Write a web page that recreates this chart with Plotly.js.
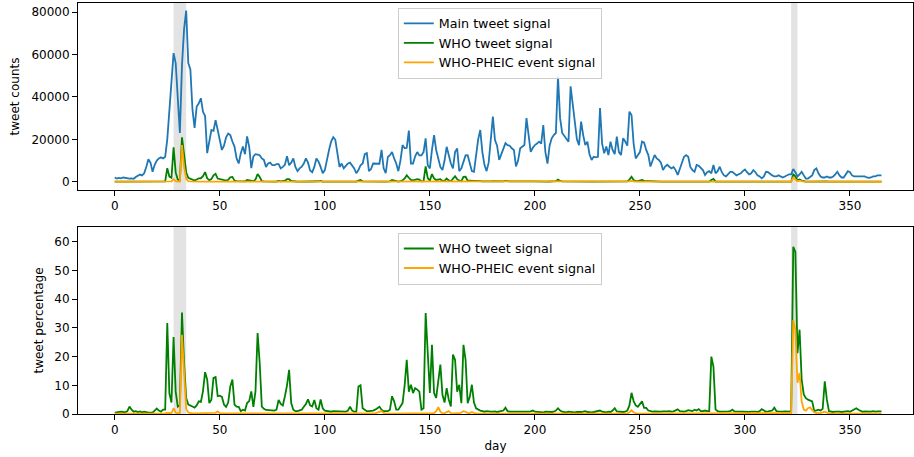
<!DOCTYPE html>
<html>
<head>
<meta charset="utf-8">
<script src="https://cdn.plot.ly/plotly-3.0.1.min.js"></script>
<style>html,body{margin:0;padding:0;background:#fff;}#chart{width:914px;height:457px;}</style>
</head>
<body>
<div id="chart"></div>
<script>
// ---- data (day index 0..365) ----
const mainCount = [
2000,1500,1800,1600,2000,1800,1700,1500,1600,1400,
2200,2800,3400,3000,4000,7000,10600,9000,4700,8000,
10000,11000,11500,11000,11800,20000,34000,48000,60700,56000,
40000,23000,55000,72000,80800,56000,53000,34000,25400,35500,
37000,39400,33000,31000,13500,20000,24400,24000,29000,24500,
19000,15000,17000,21000,22700,22000,19000,16600,11000,8600,
13500,16600,13000,21400,16500,6400,12000,13000,12800,12500,
11000,10300,7000,8600,9000,7800,7800,8300,8300,6300,
7000,8000,12000,7800,9000,11000,7000,5000,6300,7100,
8600,11000,9000,5300,4500,7000,11000,9500,7000,4000,
5500,11000,15000,19000,21000,19800,12000,7000,8600,6300,
7500,8600,9000,7800,6300,4000,5500,7800,8600,13000,
13500,5000,6000,8600,8600,8500,8500,15000,6300,4000,
11700,12500,14000,11000,8600,5000,10000,17300,15800,16000,
24100,8600,8600,12000,14000,12400,12400,14000,20500,7800,
6300,15000,22000,15000,11000,7000,5500,10000,16500,12400,
8600,6300,14000,15700,5000,6300,9500,12400,12500,8000,
5000,4700,13500,20000,24400,14000,8000,5000,9000,22000,
30700,19700,17000,10300,13000,15000,18200,17300,17000,15800,
15000,7200,10000,15800,16500,17300,30000,22000,14100,16000,
17300,18000,18900,18000,26700,14000,8600,17000,20500,22000,
23000,49600,30000,23000,21500,20500,18900,45000,37000,30700,
20000,17300,28400,22000,17300,18900,13000,10300,11800,11500,
11800,34800,18000,13400,16600,12600,18900,15000,13000,21300,
14000,12600,20500,19000,17000,33100,31500,18000,11000,12500,
14000,18900,18400,15000,12600,7200,10000,12600,11000,10300,
9000,5500,7200,8000,7100,6300,7000,5500,3200,6000,
8600,11800,12600,11800,7000,5500,4700,7900,7500,6300,
5500,3200,4500,5000,4000,7900,4000,5000,7100,4500,
3000,2500,3500,4700,4700,4000,3000,3500,4000,5000,
5800,4500,3500,4000,5500,4500,3000,2500,1600,2500,
4700,4500,3500,3000,2500,2500,3000,2500,2000,2500,
3000,3500,3500,6000,4500,2500,3500,4700,3000,1500,
1500,2500,3000,5500,6300,4000,2500,2000,2000,2500,
2000,2000,2500,3500,4700,3000,2000,2000,3500,5000,
4500,3000,2500,2500,2500,2800,2500,2500,2000,1800,
2000,2500,2500,3000,3000,3000];

const whoCount = [
10,9,14,13,14,11,17,39,24,11,
22,20,31,18,32,42,53,45,24,96,
190,132,92,165,177,6400,2450,1900,16300,4400,
1040,690,21000,12800,4500,1850,1480,880,560,1070,
1630,1650,2640,4530,1620,760,1220,3020,3740,1520,
1220,900,560,525,910,2110,2280,550,290,215,
135,250,156,810,740,505,300,1040,3610,2225,
286,185,98,112,108,94,94,125,407,220,
210,496,1200,1200,342,165,70,50,76,107,
215,385,459,159,117,343,220,143,357,80,
66,110,150,152,210,198,96,70,86,50,
60,103,234,94,50,32,528,780,172,195,
135,50,60,103,129,179,213,225,63,40,
117,188,868,484,129,75,250,657,1580,3024,
1880,877,628,1080,1190,967,186,280,7216,1747,
460,3615,1606,840,1210,1204,369,400,1485,620,
224,1304,2646,1225,510,239,2290,2344,475,480,
510,188,270,300,293,140,64,50,72,176,
246,177,119,82,130,180,400,173,136,126,
90,50,80,111,99,138,210,176,127,192,
138,126,113,126,160,112,60,102,144,176,
276,992,360,184,151,123,151,315,222,184,
140,104,199,176,173,132,78,62,83,92,
106,418,144,94,100,101,132,180,260,192,
112,113,144,152,204,993,2331,810,330,313,
490,832,386,315,151,72,80,113,88,93,
72,50,58,72,71,50,63,66,51,60,
77,94,126,153,84,55,71,95,128,63,
55,38,45,50,800,1304,64,50,57,36,
21,20,32,47,71,36,24,25,32,40,
41,36,25,32,50,36,21,25,27,30,
38,41,35,36,55,25,27,20,16,23,
24,28,35,3498,2543,530,1029,564,204,83,
75,115,132,55,76,60,30,36,228,125,
20,16,18,28,42,24,14,16,32,50,
36,36,43,50,38,28,20,23,16,16,
16,25,20,27,30,27];

const pheicCount = [
2,2,2,2,2,2,2,2,2,1,
2,3,3,3,4,7,11,9,5,8,
10,11,12,11,24,80,100,140,1200,280,
120,90,17300,7000,1450,280,160,70,50,70,
70,80,70,60,30,40,50,70,120,220,
60,30,30,40,45,45,40,35,20,17,
14,17,13,21,17,6,12,13,26,25,
11,10,7,9,9,8,8,8,8,6,
7,8,12,8,9,11,7,5,6,7,
9,11,9,5,5,7,11,10,7,4,
6,11,15,19,21,20,12,7,9,6,
8,9,9,8,6,4,6,8,9,13,
14,5,6,9,17,43,68,150,25,4,
12,13,14,11,9,5,10,17,16,16,
24,9,9,12,14,12,12,14,60,8,
13,30,66,150,260,56,11,30,100,124,
26,13,28,47,10,32,95,99,38,24,
35,14,14,20,24,14,8,5,9,22,
31,20,17,10,13,15,18,17,17,16,
15,7,10,16,17,17,30,22,14,16,
17,18,19,18,27,14,9,17,21,22,
23,50,30,23,22,21,19,45,37,31,
20,17,28,22,17,19,13,10,12,12,
12,35,18,13,17,13,19,15,13,21,
14,13,21,19,34,200,410,110,22,13,
14,19,18,15,13,7,10,13,11,10,
9,6,7,8,7,6,7,6,3,6,
9,12,13,12,7,6,5,8,8,6,
6,3,5,5,4,8,4,5,7,5,
3,3,4,5,5,4,3,4,4,5,
6,5,4,4,6,5,3,3,2,3,
5,5,4,3,3,3,3,3,2,3,
3,4,11,1970,1320,270,500,210,45,18,
30,58,45,33,19,8,8,12,16,13,
2,2,3,4,5,3,2,2,4,5,
5,3,3,3,3,3,3,3,2,2,
2,3,3,3,3,3];

const whoPct = [
0.5,0.6,0.8,0.8,0.7,0.6,1.0,2.6,1.5,0.8,
1.0,0.7,0.9,0.6,0.8,0.6,0.5,0.5,0.5,1.2,
1.9,1.2,0.8,1.5,1.5,31.7,7.2,4.0,26.8,7.8,
2.6,3.0,35.4,17.8,5.6,3.3,2.8,2.6,2.2,3.0,
4.4,4.2,8.0,14.6,12.0,3.8,5.0,12.6,12.9,6.2,
6.4,6.0,3.3,2.5,4.0,9.6,12.0,3.3,2.6,2.5,
1.0,1.5,1.2,3.8,4.5,7.9,2.5,8.0,28.2,17.8,
2.6,1.8,1.4,1.3,1.2,1.2,1.2,1.5,4.9,3.5,
3.0,6.2,10.0,15.4,3.8,1.5,1.0,1.0,1.2,1.5,
2.5,3.5,5.1,3.0,2.6,4.9,2.0,1.5,5.1,2.0,
1.2,1.0,1.0,0.8,1.0,1.0,0.8,1.0,1.0,0.8,
0.8,1.2,2.6,1.2,0.8,0.8,9.6,10.0,2.0,1.5,
1.0,1.0,1.0,1.2,1.5,2.1,2.5,1.5,1.0,1.0,
1.0,1.5,6.2,4.4,1.5,1.5,2.5,3.8,10.0,18.9,
7.8,10.2,7.3,9.0,8.5,7.8,1.5,2.0,35.2,22.4,
7.3,24.1,7.3,5.6,11.0,17.2,6.7,4.0,9.0,5.0,
2.6,20.7,18.9,7.8,10.2,3.8,24.1,18.9,3.8,6.0,
10.2,4.0,2.0,1.5,1.2,1.0,0.8,1.0,0.8,0.8,
0.8,0.9,0.7,0.8,1.0,1.2,2.2,1.0,0.8,0.8,
0.6,0.7,0.8,0.7,0.6,0.8,0.7,0.8,0.9,1.2,
0.8,0.7,0.6,0.7,0.6,0.8,0.7,0.6,0.7,0.8,
1.2,2.0,1.2,0.8,0.7,0.6,0.8,0.7,0.6,0.6,
0.7,0.6,0.7,0.8,1.0,0.7,0.6,0.6,0.7,0.8,
0.9,1.2,0.8,0.7,0.6,0.8,0.7,1.2,2.0,0.9,
0.8,0.9,0.7,0.8,1.2,3.0,7.4,4.5,3.0,2.5,
3.5,4.4,2.1,2.1,1.2,1.0,0.8,0.9,0.8,0.9,
0.8,0.9,0.8,0.9,1.0,0.8,0.9,1.2,1.6,1.0,
0.9,0.8,1.0,1.3,1.2,1.0,1.5,1.2,1.7,1.0,
1.0,1.2,1.0,1.0,20.0,16.5,1.6,1.0,0.8,0.8,
0.7,0.8,0.9,1.0,1.5,0.9,0.8,0.7,0.8,0.8,
0.7,0.8,0.7,0.8,0.9,0.8,0.7,1.0,1.7,1.2,
0.8,0.9,1.0,1.2,2.2,1.0,0.9,0.8,0.8,0.9,
0.8,0.8,1.0,58.3,56.5,21.2,29.4,12.0,6.8,5.5,
5.0,4.6,4.4,1.0,1.2,1.5,1.2,1.8,11.4,5.0,
1.0,0.8,0.7,0.8,0.9,0.8,0.7,0.8,0.9,1.0,
0.8,1.2,1.7,2.0,1.5,1.0,0.8,0.9,0.8,0.9,
0.8,1.0,0.8,0.9,1.0,0.9];

const pheicPct = [
0.1,0.1,0.1,0.1,0.1,0.1,0.1,0.1,0.1,0.1,
0.1,0.1,0.1,0.1,0.1,0.1,0.1,0.1,0.1,0.1,
0.1,0.1,0.1,0.1,0.2,0.4,0.3,0.3,2.0,0.5,
0.3,0.4,27.6,11.9,1.8,0.5,0.3,0.2,0.2,0.2,
0.2,0.2,0.2,0.2,0.2,0.2,0.2,0.3,0.4,0.9,
0.3,0.2,0.2,0.2,0.2,0.2,0.2,0.2,0.2,0.2,
0.1,0.1,0.1,0.1,0.1,0.1,0.1,0.1,0.2,0.2,
0.1,0.1,0.1,0.1,0.1,0.1,0.1,0.1,0.1,0.1,
0.1,0.1,0.1,0.1,0.1,0.1,0.1,0.1,0.1,0.1,
0.1,0.1,0.1,0.1,0.1,0.1,0.1,0.1,0.1,0.1,
0.1,0.1,0.1,0.1,0.1,0.1,0.1,0.1,0.1,0.1,
0.1,0.1,0.1,0.1,0.1,0.1,0.1,0.1,0.1,0.1,
0.1,0.1,0.1,0.1,0.2,0.5,0.8,1.0,0.4,0.1,
0.1,0.1,0.1,0.1,0.1,0.1,0.1,0.1,0.1,0.1,
0.1,0.1,0.1,0.1,0.1,0.1,0.1,0.1,0.3,0.1,
0.2,0.2,0.3,1.0,2.4,0.8,0.2,0.3,0.6,1.0,
0.3,0.2,0.2,0.3,0.2,0.5,1.0,0.8,0.3,0.3,
0.7,0.3,0.1,0.1,0.1,0.1,0.1,0.1,0.1,0.1,
0.1,0.1,0.1,0.1,0.1,0.1,0.1,0.1,0.1,0.1,
0.1,0.1,0.1,0.1,0.1,0.1,0.1,0.1,0.1,0.1,
0.1,0.1,0.1,0.1,0.1,0.1,0.1,0.1,0.1,0.1,
0.1,0.1,0.1,0.1,0.1,0.1,0.1,0.1,0.1,0.1,
0.1,0.1,0.1,0.1,0.1,0.1,0.1,0.1,0.1,0.1,
0.1,0.1,0.1,0.1,0.1,0.1,0.1,0.1,0.1,0.1,
0.1,0.1,0.1,0.1,0.2,0.6,1.3,0.6,0.2,0.1,
0.1,0.1,0.1,0.1,0.1,0.1,0.1,0.1,0.1,0.1,
0.1,0.1,0.1,0.1,0.1,0.1,0.1,0.1,0.1,0.1,
0.1,0.1,0.1,0.1,0.1,0.1,0.1,0.1,0.1,0.1,
0.1,0.1,0.1,0.1,0.1,0.1,0.1,0.1,0.1,0.1,
0.1,0.1,0.1,0.1,0.1,0.1,0.1,0.1,0.1,0.1,
0.1,0.1,0.1,0.1,0.1,0.1,0.1,0.1,0.1,0.1,
0.1,0.1,0.1,0.1,0.1,0.1,0.1,0.1,0.1,0.1,
0.1,0.1,0.3,32.8,29.4,10.9,14.3,4.4,1.5,1.2,
2.0,2.3,1.5,0.6,0.3,0.2,0.3,0.6,0.8,0.5,
0.1,0.1,0.1,0.1,0.1,0.1,0.1,0.1,0.1,0.1,
0.1,0.1,0.1,0.1,0.1,0.1,0.1,0.1,0.1,0.1,
0.1,0.1,0.1,0.1,0.1,0.1];

const seriesNames = ['Main tweet signal', 'WHO tweet signal', 'WHO-PHEIC event signal'];
const eventSpans = [[28, 34], [322, 325]];
const xTicks = [0, 50, 100, 150, 200, 250, 300, 350];
const yTicksTop = [0, 20000, 40000, 60000, 80000];
const yTicksBottom = [0, 10, 20, 30, 40, 50, 60];

// ---- chart ----
const days = mainCount.map((_, i) => i);
const C_MAIN = '#1f77b4', C_WHO = '#008000', C_PHEIC = '#ffa500';
const LW = 1.8;

const traces = [
  {x: days, y: mainCount, xaxis: 'x', yaxis: 'y', name: seriesNames[0], mode: 'lines', line: {color: C_MAIN, width: LW}, legend: 'legend'},
  {x: days, y: whoCount, xaxis: 'x', yaxis: 'y', name: seriesNames[1], mode: 'lines', line: {color: C_WHO, width: LW}, legend: 'legend'},
  {x: days, y: pheicCount, xaxis: 'x', yaxis: 'y', name: seriesNames[2], mode: 'lines', line: {color: C_PHEIC, width: LW}, legend: 'legend'},
  {x: days, y: whoPct, xaxis: 'x2', yaxis: 'y2', name: seriesNames[1], mode: 'lines', line: {color: C_WHO, width: LW}, legend: 'legend2'},
  {x: days, y: pheicPct, xaxis: 'x2', yaxis: 'y2', name: seriesNames[2], mode: 'lines', line: {color: C_PHEIC, width: LW}, legend: 'legend2'}
];

const shapes = [];
eventSpans.forEach(s => {
  ['', '2'].forEach(k => {
    shapes.push({type: 'rect', xref: 'x' + k, yref: 'y' + k + ' domain', x0: s[0], x1: s[1], y0: 0, y1: 1,
      fillcolor: '#e3e3e3', line: {width: 0}, layer: 'below'});
  });
});

const axisCommon = {
  showline: true, mirror: true, linecolor: '#000', linewidth: 1,
  ticks: 'outside', ticklen: 5, tickwidth: 1, tickcolor: '#000',
  showgrid: false, zeroline: false,
  tickfont: {family: 'DejaVu Sans', size: 12, color: '#000'}
};

const legendCommon = {
  xanchor: 'left', yanchor: 'top',
  bgcolor: 'rgba(255,255,255,0.8)', bordercolor: '#cccccc', borderwidth: 1,
  font: {family: 'DejaVu Sans', size: 12.7, color: '#000'},
  tracegroupgap: 0
};

const layout = {
  width: 914, height: 457,
  margin: {l: 78, r: 1, t: 3, b: 43, pad: 0},
  paper_bgcolor: '#fff', plot_bgcolor: '#fff',
  font: {family: 'DejaVu Sans', size: 12, color: '#000'},
  showlegend: true,
  xaxis: Object.assign({}, axisCommon, {domain: [0, 1], anchor: 'y', range: [-17.5, 380], tickvals: xTicks}),
  yaxis: Object.assign({}, axisCommon, {domain: [0.545, 1], anchor: 'x', range: [-3900, 84350], tickvals: yTicksTop, tickformat: 'd',
    title: {text: 'tweet counts', font: {family: 'DejaVu Sans', size: 12}, standoff: 9}}),
  xaxis2: Object.assign({}, axisCommon, {domain: [0, 1], anchor: 'y2', range: [-17.5, 380], tickvals: xTicks,
    title: {text: 'day', font: {family: 'DejaVu Sans', size: 12}, standoff: 5}}),
  yaxis2: Object.assign({}, axisCommon, {domain: [0, 0.455], anchor: 'x2', range: [0, 65.2], tickvals: yTicksBottom,
    title: {text: 'tweet percentage', font: {family: 'DejaVu Sans', size: 12}, standoff: 8}}),
  legend: Object.assign({}, legendCommon, {x: 0.383, y: 0.989}),
  legend2: Object.assign({}, legendCommon, {x: 0.383, y: 0.441}),
  shapes: shapes
};

Plotly.newPlot('chart', traces, layout, {staticPlot: true, displayModeBar: false});
</script>
</body>
</html>
